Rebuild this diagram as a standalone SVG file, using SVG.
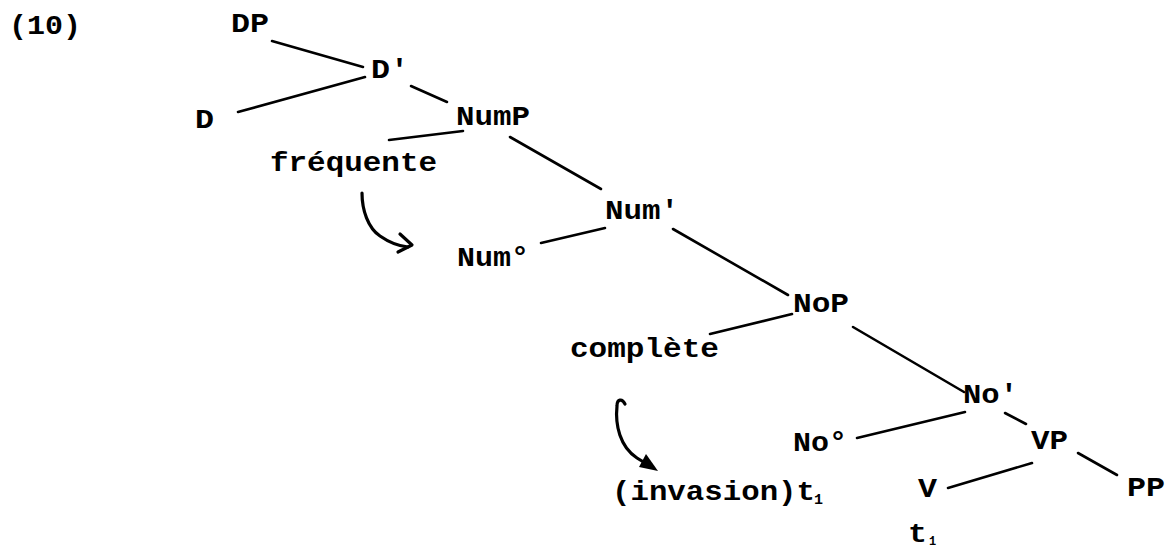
<svg xmlns="http://www.w3.org/2000/svg" width="1168" height="548" viewBox="0 0 1168 548">
<style>
text{font-family:"Liberation Mono","Courier New",monospace;font-size:27px;font-weight:bold;fill:#000}
.sub{font-size:15px}
.e{stroke:#000;stroke-width:2.6;stroke-linecap:round;fill:none}
.arr{stroke:#000;stroke-width:3.2;stroke-linecap:round;stroke-linejoin:round;fill:none}
</style>
<rect width="1168" height="548" fill="#fff"/>
<g id="label10"><text x="9" y="34" textLength="72" lengthAdjust="spacingAndGlyphs">(10)</text></g>
<g id="DP"><text x="231" y="32" textLength="38" lengthAdjust="spacingAndGlyphs">DP</text></g>
<g id="Dbar"><text x="371" y="78" textLength="38" lengthAdjust="spacingAndGlyphs">D'</text></g>
<g id="D"><text x="195" y="128" textLength="19" lengthAdjust="spacingAndGlyphs">D</text></g>
<g id="NumP"><text x="456" y="125" textLength="74" lengthAdjust="spacingAndGlyphs">NumP</text></g>
<g id="frequente"><text x="270" y="171" textLength="167" lengthAdjust="spacingAndGlyphs">fréquente</text></g>
<g id="Numbar"><text x="605" y="219" textLength="74" lengthAdjust="spacingAndGlyphs">Num'</text></g>
<g id="Num0"><text x="457" y="266" textLength="72" lengthAdjust="spacingAndGlyphs">Num°</text></g>
<g id="NoP"><text x="793" y="312" textLength="56" lengthAdjust="spacingAndGlyphs">NoP</text></g>
<g id="complete"><text x="570" y="357" textLength="149" lengthAdjust="spacingAndGlyphs">complète</text></g>
<g id="Nobar"><text x="963" y="403" textLength="55" lengthAdjust="spacingAndGlyphs">No'</text></g>
<g id="No0"><text x="793" y="451" textLength="54" lengthAdjust="spacingAndGlyphs">No°</text></g>
<g id="VP"><text x="1031" y="449" textLength="37" lengthAdjust="spacingAndGlyphs">VP</text></g>
<g id="V"><text x="918" y="497" textLength="19" lengthAdjust="spacingAndGlyphs">V</text></g>
<g id="PP"><text x="1127" y="496" textLength="38" lengthAdjust="spacingAndGlyphs">PP</text></g>
<g id="invasion"><text x="612" y="500" textLength="203" lengthAdjust="spacingAndGlyphs">(invasion)t</text><text class="sub" x="814" y="504">1</text></g>
<g id="t1"><text x="908" y="542" textLength="19" lengthAdjust="spacingAndGlyphs">t</text><text class="sub" x="929" y="545" style="font-size:12px">1</text></g>
<g id="connectors">
<line class="e" x1="272" y1="41" x2="363" y2="67"/>
<line class="e" x1="238" y1="112" x2="365" y2="77"/>
<line class="e" x1="411" y1="86" x2="447" y2="102"/>
<line class="e" x1="389" y1="140" x2="463" y2="131"/>
<line class="e" x1="510" y1="137" x2="601" y2="189"/>
<line class="e" x1="541" y1="243" x2="605" y2="228"/>
<line class="e" x1="673" y1="229" x2="788" y2="295"/>
<line class="e" x1="710" y1="334" x2="792" y2="314"/>
<line class="e" x1="853" y1="327" x2="964" y2="392"/>
<line class="e" x1="857" y1="438" x2="965" y2="412"/>
<line class="e" x1="1005" y1="413" x2="1026" y2="424"/>
<line class="e" x1="948" y1="488" x2="1032" y2="463"/>
<line class="e" x1="1078" y1="453" x2="1117" y2="475"/>
<path class="arr" d="M362,193 C362,210 368,228 380,236 C390,243 398,246 408,247"/>
<path class="arr" d="M400,234 L412,245 L398,252"/>
<path class="arr" d="M625,404 C622,398 617,399 617,406 C615,425 620,447 637,458 C643,462 647,464 651,466"/>
<polygon points="646,454 658,471 639,467" fill="#000"/>
</g>
</svg>
